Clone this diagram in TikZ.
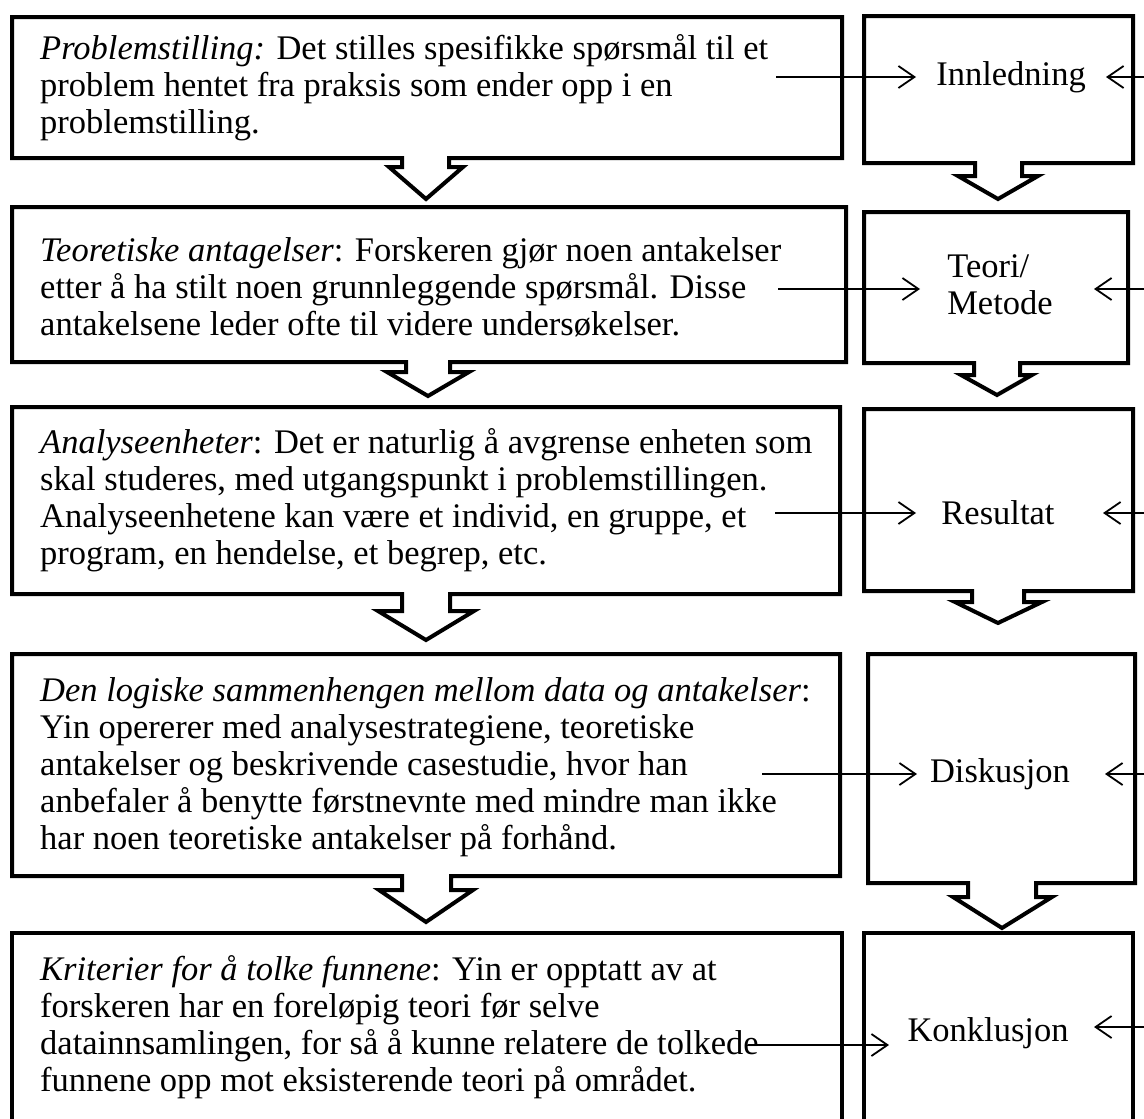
\documentclass[tikz,border=0pt]{standalone}
\usepackage{fontspec}
\setmainfont{Liberation Serif}
\usetikzlibrary{arrows.meta}
\tikzset{
  frame/.style={line width=4pt, line join=miter, line cap=rect},
  txt/.style={inner sep=0pt, align=left, font=\fontsize{34.5}{37}\selectfont},
  lbl/.style={inner sep=0pt, align=left, font=\fontsize{34.5}{37}\selectfont},
  link/.style={line width=1.8pt, -{Straight Barb[length=16pt,width=22pt,line width=1.8pt]}}
}
% box with a downward chevron tab:
% #1 left, #2 top, #3 right, #4 bottom, #5 tab left, #6 tab right,
% #7 tab bottom, #8 wing left, #9 wing right, then tip x and tip y
\newcommand\chevbox[9]{\def\cbA{#1}\def\cbB{#2}\def\cbC{#3}\def\cbD{#4}\def\cbE{#5}\def\cbF{#6}\def\cbG{#7}\def\cbH{#8}\def\cbI{#9}\chevboxfinish}
\newcommand\chevboxfinish[2]{%
  \draw[frame] (\cbA,\cbB) -- (\cbC,\cbB) -- (\cbC,\cbD) -- (\cbF,\cbD) -- (\cbF,\cbG)
    -- (\cbI,\cbG) -- (#1,#2) -- (\cbH,\cbG) -- (\cbE,\cbG) -- (\cbE,\cbD) -- (\cbA,\cbD) -- cycle;}
\begin{document}
\begin{tikzpicture}[x=1pt,y=-1pt]
\clip (0,0) rectangle (1144,1119);
\fill[white] (0,0) rectangle (1144,1119);

% left column
\chevbox{12}{17}{842}{158}{402}{449}{167}{389}{463}{426}{199}
\chevbox{12}{207}{846}{362}{406}{450}{372}{387}{469}{428}{396}
\chevbox{12}{407}{840}{594}{402}{450}{611}{378}{474}{426}{640}
\chevbox{12}{654}{840}{876}{402}{451}{890}{379}{473}{426}{922}
\draw[frame] (12,1140) -- (12,933) -- (842,933) -- (842,1140);

% right column
\chevbox{864}{16}{1133}{163}{975}{1022}{176}{958}{1038}{998}{199}
\chevbox{864}{212}{1128}{363}{974}{1020}{375}{961}{1032}{997}{395}
\chevbox{864}{409}{1133}{591}{972}{1024}{602}{955}{1042}{998}{623}
\chevbox{868}{654}{1135}{883}{968}{1036}{897}{953}{1052}{1002}{928}
\draw[frame] (864,1140) -- (864,933) -- (1133,933) -- (1133,1140);

% texts of the left column
\node[txt, anchor=west] (p1) at (40,88) {\textit{Problemstilling:} Det stilles spesifikke spørsmål til et\\
problem hentet fra praksis som ender opp i en\\
problemstilling.};
\node[txt, anchor=west] (p2) at (40,287) {\textit{Teoretiske antagelser}: Forskeren gjør noen antakelser\\
etter å ha stilt noen grunnleggende spørsmål. Disse\\
antakelsene leder ofte til videre undersøkelser.};
\node[txt, anchor=west] (p3) at (40,500) {\textit{Analyseenheter}: Det er naturlig å avgrense enheten som\\
skal studeres, med utgangspunkt i problemstillingen.\\
Analyseenhetene kan være et individ, en gruppe, et\\
program, en hendelse, et begrep, etc.};
\node[txt, anchor=west] (p4) at (40,767) {\textit{Den logiske sammenhengen mellom data og antakelser}:\\
Yin opererer med analysestrategiene, teoretiske\\
antakelser og beskrivende casestudie, hvor han\\
anbefaler å benytte førstnevnte med mindre man ikke\\
har noen teoretiske antakelser på forhånd.};
\node[txt, anchor=west] (p5) at (40,1027) {\textit{Kriterier for å tolke funnene}: Yin er opptatt av at\\
forskeren har en foreløpig teori før selve\\
datainnsamlingen, for så å kunne relatere de tolkede\\
funnene opp mot eksisterende teori på området.};

% labels of the right column
\node[lbl] (r1) at (1011,77) {Innledning};
\node[lbl] (r2) at (1000,285) {Teori/\\Metode};
\node[lbl] (r3) at (998,513) {Resultat};
\node[lbl] (r4) at (1000,774) {Diskusjon};
\node[lbl] (r5) at (988,1033) {Konklusjon};

% free ends of the connectors
\coordinate (a1) at (776,77);  \coordinate (h1) at (916,77);
\coordinate (a2) at (778,289); \coordinate (h2) at (920,289);
\coordinate (a3) at (775,513); \coordinate (h3) at (916,513);
\coordinate (a4) at (762,774); \coordinate (h4) at (917,774);
\coordinate (a5) at (748,1045);\coordinate (h5) at (889,1045);
\coordinate (b1) at (1150,77);  \coordinate (k1) at (1106,77);
\coordinate (b2) at (1150,289); \coordinate (k2) at (1094,289);
\coordinate (b3) at (1150,513); \coordinate (k3) at (1103,513);
\coordinate (b4) at (1150,774); \coordinate (k4) at (1105,774);
\coordinate (b5) at (1150,1027);\coordinate (k5) at (1094,1027);

\foreach \i in {1,...,5} {
  \draw[link] (a\i) -- (h\i);
  \draw[link] (b\i) -- (k\i);
}
\end{tikzpicture}
\end{document}
